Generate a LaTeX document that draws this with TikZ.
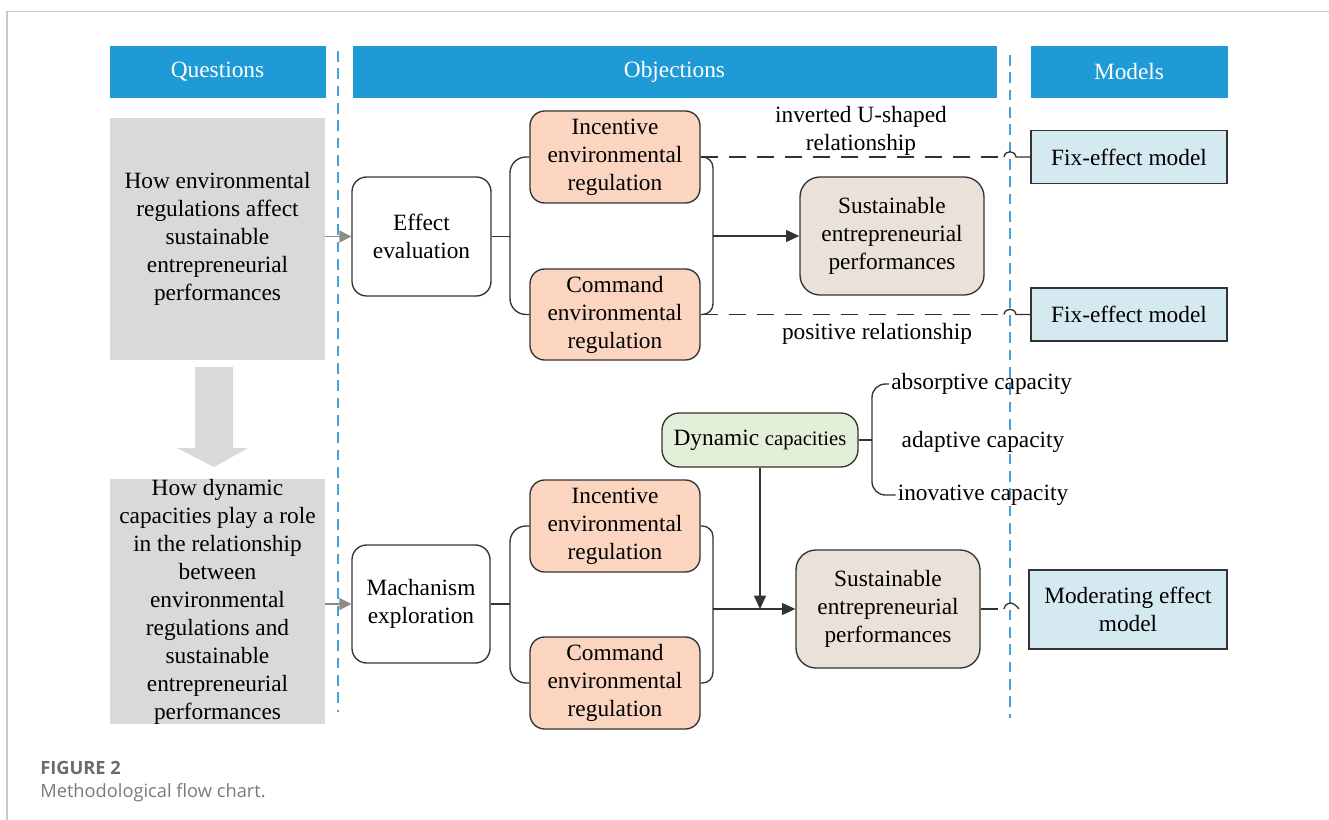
\documentclass[tikz,border=0pt]{standalone}
\usepackage{fontspec}
\setmainfont{Liberation Serif}
\newfontfamily\capfont{Open Sans}
\usetikzlibrary{arrows.meta}
\definecolor{hdrblue}{HTML}{1E9BD7}
\definecolor{dashblue}{HTML}{4A9FD8}
\definecolor{qgray}{HTML}{D9D9D9}
\definecolor{orng}{HTML}{FCD5C1}
\definecolor{beige}{HTML}{EAE2D8}
\definecolor{grn}{HTML}{E3EFD8}
\definecolor{lblue}{HTML}{D5E9F1}
\definecolor{framegray}{HTML}{C8C8C8}
\definecolor{edge}{HTML}{333333}
\definecolor{garrow}{HTML}{8C8C8C}
\definecolor{capgray}{HTML}{6B6B6B}
\begin{document}
\begin{tikzpicture}[x=0.75pt,y=-0.75pt,
  sz/.style 2 args={minimum width=#1*0.75pt, minimum height=#2*0.75pt},
  txt/.style={font=\fontsize{17.5}{21}\selectfont, align=center, inner sep=0pt},
  hdr/.style={fill=hdrblue, draw=hdrblue, text=white, font=\fontsize{17.5}{21}\selectfont, inner sep=0pt},
  qbox/.style={txt, fill=qgray},
  rbox/.style={txt, draw=edge, line width=1pt, rounded corners=11pt},
  wbox/.style={rbox, fill=white},
  obox/.style={rbox, fill=orng},
  sbox/.style={rbox, fill=beige, rounded corners=15pt},
  gbox/.style={rbox, fill=grn, rounded corners=13pt},
  mbox/.style={txt, draw=edge, fill=lblue, line width=1pt},
  lbl/.style={font=\fontsize{17.5}{21}\selectfont, align=center, inner sep=1.5pt},
  conn/.style={draw=edge, line width=1pt},
  arr/.style={conn, -{Triangle[length=10pt,width=9pt]}},
  garr/.style={draw=garrow, line width=1pt, -{Triangle[length=9pt,width=9pt]}},
  dsh/.style={conn, dash pattern=on 13pt off 8pt},
  bdash/.style={draw=dashblue, line width=1.2pt, dash pattern=on 8pt off 5pt},
]
\useasboundingbox (0,0) rectangle (1329,820);
% frame
\draw[framegray, line width=1.1pt] (7,820) -- (7,11.5) -- (1329,11.5);
% headers
\node[hdr, sz={215}{51}] (hq) at (217.5,71.5) {Questions};
\node[hdr, sz={643}{51}] (ho) at (674.5,71.5) {Objections};
\node[hdr, sz={196}{51}] (hm) at (1129,71.5) {Models};
% blue dashed separators
\draw[bdash] (338,51) -- (338,712);
\draw[bdash] (1010,55) -- (1010,718);
% question boxes
\node[qbox, sz={215}{242}] (q1) at (217.5,239) {How environmental\\regulations affect\\sustainable\\entrepreneurial\\performances};
\node[qbox, sz={215}{241}] (q2) at (217.5,601.5) {How dynamic\\capacities play a role\\in the relationship\\between\\environmental\\regulations and\\sustainable\\entrepreneurial\\performances};
% big gray arrow
\fill[qgray] (195,367) -- (233,367) -- (233,448) -- (248,448) -- (214,467) -- (177,448) -- (195,448) -- cycle;
% objections row 1
\node[wbox, sz={139}{119}] (ee) at (421.5,236.5) {Effect\\evaluation};
\node[obox, sz={170}{92}] (i1) at (615,157) {Incentive\\environmental\\regulation};
\node[obox, sz={170}{91}] (c1) at (615,314.5) {Command\\environmental\\regulation};
\node[sbox, sz={184}{118}] (s1) at (892,236) {Sustainable\\entrepreneurial\\performances};
\node[mbox, sz={196}{53}] (f1) at (1129,157) {Fix-effect model};
\node[mbox, sz={196}{53}] (f2) at (1129,314.5) {Fix-effect model};
\node[lbl] (lu) at (861,131) {inverted U-shaped\\relationship};
\node[lbl] (lp) at (877,334) {positive relationship};
% objections row 2
\node[gbox, sz={196}{54}] (dy) at (760,440) {Dynamic {\fontsize{15.5}{18}\selectfont capacities}};
\node[lbl, anchor=west] (ab) at (889,384) {absorptive capacity};
\node[lbl] (ad) at (983,442) {adaptive capacity};
\node[lbl] (iv) at (983,495) {inovative capacity};
\node[wbox, sz={138}{118}] (me) at (421,604) {Machanism\\exploration};
\node[obox, sz={170}{92}] (i2) at (615,526) {Incentive\\environmental\\regulation};
\node[obox, sz={170}{92}] (c2) at (615,683) {Command\\environmental\\regulation};
\node[sbox, sz={184}{118}] (s2) at (888,609) {Sustainable\\entrepreneurial\\performances};
\node[mbox, sz={198}{79}] (mo) at (1128,609.5) {Moderating effect\\model};
% helper coordinates
\coordinate (lb1) at (510,236.5);
\coordinate (rb1) at (713,236);
\coordinate (lb2) at (510,604);
\coordinate (rb2) at (713,609);
\coordinate (db) at (872,440);
\coordinate (j1) at (1004,157);
\coordinate (j1b) at (1016,157);
\coordinate (j2) at (1004,314.5);
\coordinate (j2b) at (1016,314.5);
\coordinate (j3) at (998,609);
\coordinate (j3a) at (1004,609);
\coordinate (j3b) at (1019,609);
% connectors row 1
\draw[garr] (q1.east |- ee.west) -- (ee.west);
\draw[conn] (ee.east) -- (lb1);
\draw[conn, rounded corners=12pt] (i1.west) -| (lb1) |- (c1.west);
\draw[conn, rounded corners=8pt] (i1.east) -| (rb1) |- (c1.east);
\draw[arr] (rb1) -- (s1.west);
\draw[dsh] (i1.east) -- (j1);
\draw[conn] (j1) .. controls (1005,150) and (1015,150) .. (j1b) -- (f1.west);
\draw[dsh] (c1.east) -- (j2);
\draw[conn] (j2) .. controls (1005,307.5) and (1015,307.5) .. (j2b) -- (f2.west);
% connectors row 2
\draw[garr] (q2.east |- me.west) -- (me.west);
\draw[conn] (me.east) -- (lb2);
\draw[conn, rounded corners=12pt] (i2.west) -| (lb2) |- (c2.west);
\draw[conn, rounded corners=8pt] (i2.east) -| (rb2) |- (c2.east);
\draw[arr] (rb2) -- (s2.west);
\draw[arr] (dy.south) -- (dy.south |- s2.west);
\draw[conn] (dy.east) -- (db);
\draw[conn, rounded corners=10pt] (ab.west) -| (db) |- (iv.west);
\draw[conn] (s2.east) -- (j3);
\draw[conn] (j3a) .. controls (1006,601) and (1013,601) .. (j3b);
% caption
\node[anchor=base west, inner sep=0pt, text=capgray, font=\capfont\bfseries\fontsize{13.7}{16}\selectfont] (cap1) at (40,774) {FIGURE 2};
\node[anchor=base west, inner sep=0pt, text=capgray!90!white, font=\capfont\fontsize{13.7}{16}\selectfont] (cap2) at (40,797) {Methodological flow chart.};
\end{tikzpicture}
\end{document}
